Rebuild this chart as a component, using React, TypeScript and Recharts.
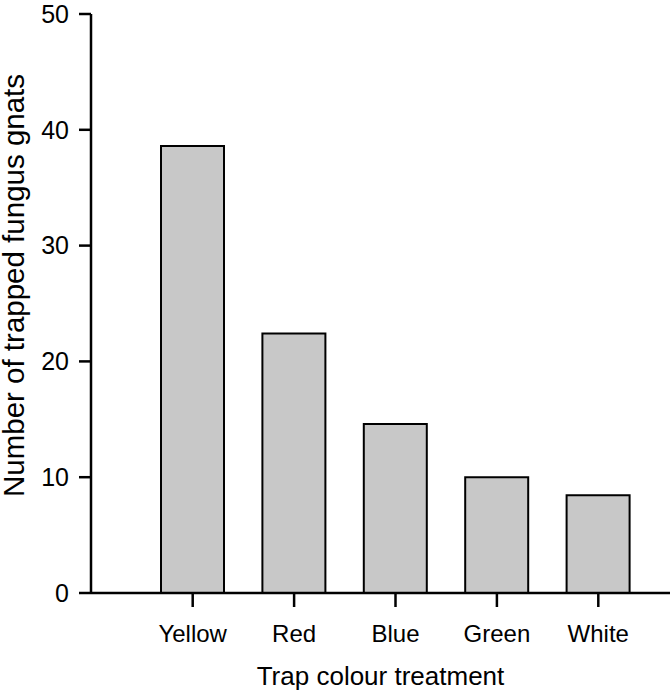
import React from 'react';
import { BarChart, Bar, XAxis, YAxis, Label } from 'recharts';

const categories = ['Yellow', 'Red', 'Blue', 'Green', 'White'];
const counts = [38.6, 22.4, 14.6, 10.0, 8.45];
const yTicks = [0, 10, 20, 30, 40, 50];

const data = categories.map((c, i) => ({ name: c, value: counts[i] }));

const FONT = '"Liberation Sans", Arial, Helvetica, sans-serif';

const YLabel = (props: any) => {
  const vb = props.viewBox || { x: 0, y: 14, width: 91, height: 579 };
  const cx = vb.x + 24;
  const cy = vb.y + vb.height / 2 - 18;
  return (
    <text
      x={cx}
      y={cy}
      transform={`rotate(-90, ${cx}, ${cy})`}
      textAnchor="middle"
      fill="#000"
      fontSize={29.5}
      fontFamily={FONT}
    >
      Number of trapped fungus gnats
    </text>
  );
};

export default function App() {
  return (
    <div style={{ position: 'fixed', left: 0, top: 0, width: 672, height: 691, background: '#fff' }}>
      <BarChart
        width={672}
        height={691}
        data={data}
        margin={{ top: 14, right: 2, bottom: 0, left: 0 }}
      >
        <XAxis
          dataKey="name"
          height={98}
          padding={{ left: 51, right: 21 }}
          interval={0}
          axisLine={{ stroke: '#000', strokeWidth: 2.5 }}
          tickLine={{ stroke: '#000', strokeWidth: 2.5 }}
          tickSize={14}
          tickMargin={18}
          tick={{ fill: '#000', fontSize: 24, fontFamily: FONT }}
        >
          <Label
            value="Trap colour treatment"
            position="insideBottom"
            offset={6}
            style={{ fill: '#000', fontSize: 26, fontFamily: FONT }}
          />
        </XAxis>
        <YAxis
          width={91}
          domain={[0, 50]}
          ticks={yTicks}
          interval={0}
          axisLine={{ stroke: '#000', strokeWidth: 2.5 }}
          tickLine={{ stroke: '#000', strokeWidth: 2.5 }}
          tickSize={12}
          tickMargin={10}
          tick={{ fill: '#000', fontSize: 25, fontFamily: FONT }}
        >
          <Label content={YLabel} />
        </YAxis>
        <Bar
          dataKey="value"
          barSize={63}
          fill="#c8c8c8"
          stroke="#000"
          strokeWidth={2}
          isAnimationActive={false}
        />
      </BarChart>
    </div>
  );
}
